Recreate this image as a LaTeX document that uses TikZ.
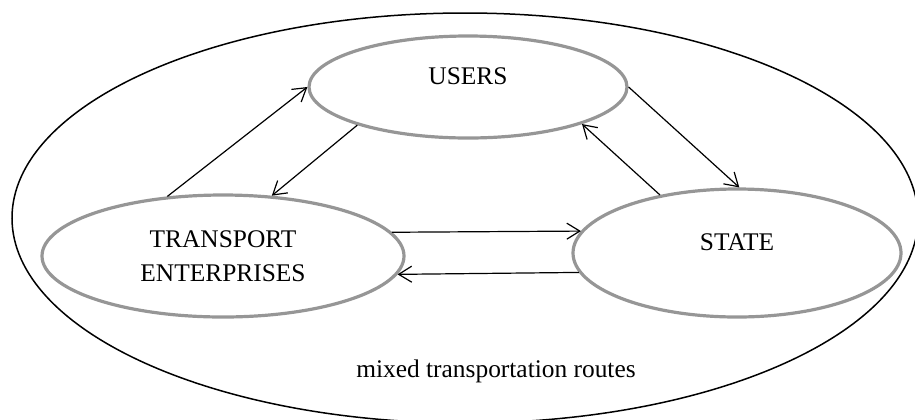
\documentclass[tikz,border=0pt]{standalone}
\usepackage{fontspec}
\setmainfont{Liberation Serif}
\usetikzlibrary{arrows.meta}
\usetikzlibrary{shapes.geometric}

\definecolor{rimgray}{RGB}{150,150,150}

\begin{document}
\begin{tikzpicture}[x=0.5pt,y=-0.5pt,
    font=\fontsize{12.7}{17}\selectfont,
    >={Straight Barb[length=6.5pt,width=8pt]},
    actor/.style={draw=rimgray, line width=1.6pt, ellipse, inner sep=0pt},
    flow/.style={line width=0.6pt}]
        \useasboundingbox (0,0) rectangle (915,419);
        \clip (0,0) rectangle (915,419);
        \node[draw, ellipse, line width=0.75pt, minimum width=453pt, minimum height=205pt] (routes) at (465,218) {};
        \node (routestext) at (496,371) {mixed transportation routes};
        \node[actor, minimum width=159pt, minimum height=51pt, label={[yshift=5.5pt]center:USERS}] (users) at (468,87) {};
        \node[actor, minimum width=181pt, minimum height=61pt, align=center] (te) at (223,256) {TRANSPORT\\ENTERPRISES};
        \node[actor, minimum width=164pt, minimum height=64pt, label={[yshift=5.5pt]center:STATE}] (state) at (737,253) {};

        \path [->] (te.133) edge[flow] (users.180);
        \path [->] (users.199) edge[flow] (te.51);
        \path [->] (users.0) edge[flow] (state.88);
        \path [->] (state.143) edge[flow] (users.342);
        \path [->] (te.8) edge[flow] (state.172.4);
        \path [->] (state.187.4) edge[flow] (te.354.3);
\end{tikzpicture}
\end{document}
